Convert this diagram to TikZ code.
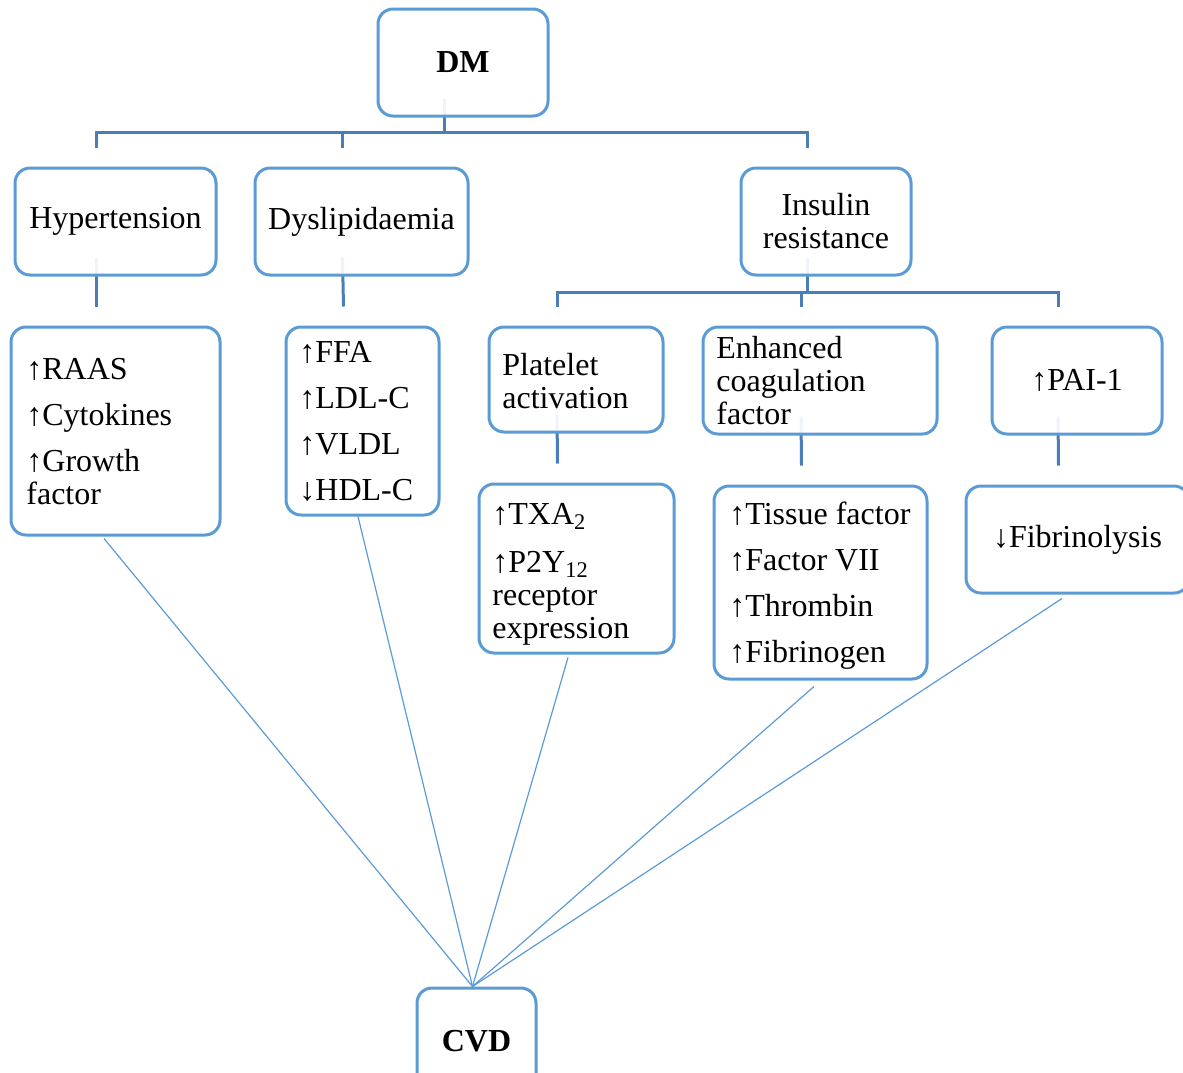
\documentclass[tikz,border=0pt]{standalone}
\usepackage{fontspec}
\setmainfont{Liberation Serif}
\usetikzlibrary{calc,backgrounds}
\definecolor{boxblue}{HTML}{5B9BD5}
\definecolor{linkblue}{HTML}{4A7EBB}
\tikzset{
  box/.style={draw=boxblue, line width=1.5pt, rounded corners=7.5pt, fill=white, fill opacity=0.92, text opacity=1, inner sep=0pt, align=center},
  txt/.style={inner sep=0pt, align=left, anchor=north west},
  conn/.style={draw=linkblue, line width=1.5pt},
  spoke/.style={draw=boxblue, line width=0.6pt},
  offs/.style={shift={(-19,-19)}}
}
\begin{document}
\fontsize{16}{16.5}\selectfont
\begin{tikzpicture}[x=0.5pt, y=-0.5pt]
\useasboundingbox (0,0) rectangle (1183,1072);
% top level
\node[box, minimum width=85pt, minimum height=53.5pt, font=\bfseries] (dm) at (463,62.5) {DM};
\node[box, minimum width=100.5pt, minimum height=53.5pt] (hyp) at (115.5,221.5) {Hypertension};
\node[box, minimum width=106.5pt, minimum height=53.5pt] (dys) at (361.5,221.5) {Dyslipidaemia};
\node[box, minimum width=85pt, minimum height=53.5pt] (ins) at (826,221.5) {Insulin\\resistance};
% second level
\node[box, minimum width=104.5pt, minimum height=104pt] (raas) at (115.5,431) {};
\node[txt] (raastxt) at (26,355.9) {\strut↑RAAS\\[6.5pt]↑Cytokines\\[6.5pt]↑Growth\\factor};
\node[box, minimum width=76.5pt, minimum height=94pt] (ffa) at (362.5,421) {};
\node[txt] (ffatxt) at (299,338.9) {\strut↑FFA\\[6.5pt]↑LDL-C\\[6.5pt]↑VLDL\\[6.5pt]↓HDL-C};
\node[box, minimum width=87pt, minimum height=52.5pt] (plt) at (576,379.5) {};
\node[txt] (plttxt) at (502,351.9) {\strut Platelet\\activation};
\node[box, minimum width=117pt, minimum height=53.5pt] (coag) at (820,380.5) {};
\node[txt] (coagtxt) at (716,334.9) {\strut Enhanced\\coagulation\\factor};
\node[box, minimum width=85pt, minimum height=53.5pt] (pai) at (1077,380.5) {↑PAI-1};
% third level
\node[box, minimum width=97.5pt, minimum height=84.5pt] (txa) at (576.5,568.5) {};
\node[txt] (txatxt) at (492,500.9) {\strut↑TXA\textsubscript{2}\\[7.5pt]↑P2Y\textsubscript{12}\\receptor\\expression};
\node[box, minimum width=106.5pt, minimum height=96.5pt] (tis) at (820.5,582.5) {};
\node[txt] (tistxt) at (729,500.9) {\strut↑Tissue factor\\[6.5pt]↑Factor VII\\[6.5pt]↑Thrombin\\[6.5pt]↑Fibrinogen};
\node[box, minimum width=111.5pt, minimum height=53.5pt] (fib) at (1077.5,539.5) {↓Fibrinolysis};
% outcome
\node[box, minimum width=59.5pt, minimum height=53pt, font=\bfseries] (cvd) at (476.5,1041) {CVD};

\begin{scope}[on background layer]
\coordinate (dmj) at ($([offs]dm.south)+(0,34)$);
\draw[conn] ([offs]dm.south) -- (dmj);
\foreach \n in {hyp,dys,ins}
  \draw[conn] (dmj) -| ([offs]\n.north);
\draw[conn] ([offs]hyp.south) -- ([offs]raas.north);
\draw[conn] ([offs]dys.south) -- ([offs]ffa.north);
\coordinate (insj) at ($([offs]ins.south)+(0,35)$);
\draw[conn] ([offs]ins.south) -- (insj);
\foreach \n in {plt,coag,pai}
  \draw[conn] (insj) -| ([offs]\n.north);
\draw[conn] ([offs]plt.south) -- ([offs]txa.north);
\draw[conn] ([offs]coag.south) -- ([offs]tis.north);
\draw[conn] ([offs]pai.south) -- ([offs]fib.north);
\end{scope}

\coordinate (cvdtop) at ([xshift=-2pt]cvd.north);
\draw[spoke] ([shift={(-11.5,2)}]raas.south) -- (cvdtop);
\draw[spoke] ([shift={(-4.5,0)}]ffa.south) -- (cvdtop);
\draw[spoke] ([shift={(-8.5,3)}]txa.south) -- (cvdtop);
\draw[spoke] ([shift={(-6.5,6)}]tis.south) -- (cvdtop);
\draw[spoke] ([shift={(-15.5,4)}]fib.south) -- (cvdtop);
\end{tikzpicture}
\end{document}
